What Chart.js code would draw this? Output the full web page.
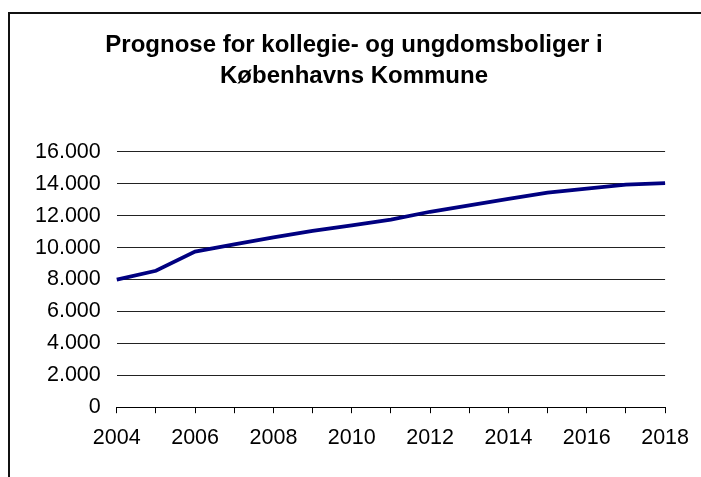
<!DOCTYPE html>
<html>
<head>
<meta charset="utf-8">
<script src="https://cdn.jsdelivr.net/npm/chart.js@4"></script>
<style>
  html, body { margin: 0; padding: 0; background: #fff; }
  #wrap { position: relative; width: 701px; height: 477px; overflow: hidden; }
  #frame { position: absolute; left: 8px; top: 12px; width: 800px; height: 600px;
           border-left: 2px solid #111; border-top: 2px solid #111; }
  canvas { position: absolute; left: 0; top: 0; }
</style>
</head>
<body>
<div id="wrap">
  <div id="frame"></div>
  <canvas id="chart" width="701" height="477"></canvas>
</div>
<script>
const YEARS = ['2004','2005','2006','2007','2008','2009','2010','2011','2012','2013','2014','2015','2016','2017','2018'];
const BOLIGER = [8000, 8550, 9750, 10200, 10650, 11050, 11400, 11750, 12250, 12650, 13050, 13450, 13700, 13950, 14050];
const Y_TICKS = [0, 2000, 4000, 6000, 8000, 10000, 12000, 14000, 16000];
const TITLE = ['Prognose for kollegie- og ungdomsboliger i', 'Københavns Kommune'];

const FONT = "'Liberation Sans', Arial, sans-serif";

// danish thousands separator
function fmt(v) {
  return String(v).replace(/\B(?=(\d{3})+(?!\d))/g, '.');
}

const ctx = document.getElementById('chart').getContext('2d');
new Chart(ctx, {
  type: 'line',
  data: {
    labels: YEARS,
    datasets: [{
      data: BOLIGER,
      borderColor: '#000080',
      borderWidth: 3.8,
      pointRadius: 0,
      tension: 0,
      fill: false
    }]
  },
  options: {
    responsive: false,
    animation: false,
    layout: { padding: { left: 19, right: 12, top: 12, bottom: 14 } },
    plugins: {
      legend: { display: false },
      tooltip: { enabled: false },
      title: {
        display: true,
        text: TITLE,
        color: '#000',
        font: { family: FONT, size: 24, weight: 'bold', lineHeight: 1.29 },
        padding: { top: 18, bottom: 60 }
      }
    },
    scales: {
      x: {
        offset: false,
        grid: { drawOnChartArea: false, drawTicks: true, tickLength: 6, color: '#000', lineWidth: 1 },
        border: { display: true, color: '#000', width: 1 },
        ticks: {
          autoSkip: false,
          maxRotation: 0,
          padding: 12,
          color: '#000',
          font: { family: FONT, size: 21.5 },
          callback: (v, i) => (i % 2 === 0 ? YEARS[i] : '')
        }
      },
      y: {
        min: 0,
        max: 16000,
        afterBuildTicks: axis => { axis.ticks = Y_TICKS.map(v => ({ value: v })); },
        grid: { drawTicks: false, color: '#222', lineWidth: 1 },
        border: { display: false },
        ticks: {
          padding: 16,
          color: '#000',
          font: { family: FONT, size: 21.5 },
          callback: v => fmt(v)
        }
      }
    }
  }
});
</script>
</body>
</html>
